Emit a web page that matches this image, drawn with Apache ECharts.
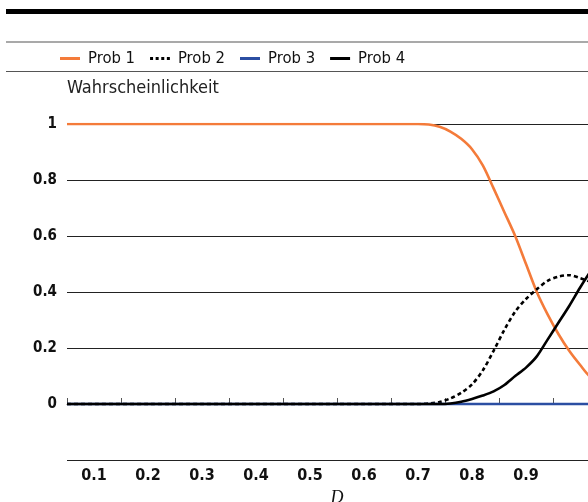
<!DOCTYPE html>
<html>
<head>
<meta charset="utf-8">
<script src="https://cdn.jsdelivr.net/npm/echarts@6/dist/echarts.min.js"></script>
<style>
  html, body { margin: 0; padding: 0; background: #fff; }
  #chart { width: 588px; height: 502px; }
</style>
</head>
<body>
<div id="chart"></div>
<script>
// ---- data ----
const xTickLabels = ['0.1', '0.2', '0.3', '0.4', '0.5', '0.6', '0.7', '0.8', '0.9', ''];
const yTickValues = [0, 0.2, 0.4, 0.6, 0.8, 1];
const dValues = [0.05, 0.10, 0.20, 0.30, 0.40, 0.50, 0.60, 0.70, 0.72, 0.74, 0.76, 0.78, 0.80, 0.82, 0.84, 0.86, 0.88, 0.90, 0.92, 0.94, 0.96, 0.98, 1.00, 1.02, 1.05];
const prob1 = [1, 1, 1, 1, 1, 1, 1, 1, 0.998, 0.99, 0.973, 0.947, 0.91, 0.852, 0.77, 0.685, 0.60, 0.50, 0.40, 0.32, 0.25, 0.19, 0.14, 0.095, 0.06];
const prob2 = [0, 0, 0, 0, 0, 0, 0, 0, 0.002, 0.007, 0.02, 0.04, 0.07, 0.12, 0.19, 0.265, 0.33, 0.375, 0.41, 0.44, 0.455, 0.46, 0.45, 0.435, 0.40];
const prob3 = [0, 0, 0, 0, 0, 0, 0, 0, 0, 0, 0, 0, 0, 0, 0, 0, 0, 0, 0, 0, 0, 0, 0, 0, 0];
const prob4 = [0, 0, 0, 0, 0, 0, 0, 0, 0, 0, 0.002, 0.008, 0.018, 0.03, 0.045, 0.068, 0.10, 0.13, 0.17, 0.23, 0.29, 0.35, 0.415, 0.475, 0.56];
const seriesNames = ['Prob 1', 'Prob 2', 'Prob 3', 'Prob 4'];
const yAxisTitle = 'Wahrscheinlichkeit';
const xAxisTitle = 'D';

const FONT = '"DejaVu Sans Condensed", "DejaVu Sans", sans-serif';
const pairs = arr => dValues.map((d, i) => [d, arr[i]]);

const chart = echarts.init(document.getElementById('chart'), null, { renderer: 'canvas' });

function lineSeries(name, arr, color, width, type) {
  return {
    name: name,
    type: 'line',
    xAxisIndex: 1,
    yAxisIndex: 0,
    data: pairs(arr),
    showSymbol: false,
    symbol: 'none',
    smooth: 0.3,
    lineStyle: { color: color, width: width, type: type || 'solid', cap: 'butt' },
    itemStyle: { color: color },
    animation: false
  };
}

const solidIcon = 'path://M0,0H20V3H0Z';
const dottedIcon = 'path://M0,0H3V3H0Z M5.6,0H8.6V3H5.6Z M11.2,0H14.2V3H11.2Z M16.8,0H19.8V3H16.8Z';

const option = {
  animation: false,
  backgroundColor: '#ffffff',
  textStyle: { fontFamily: FONT },
  graphic: [
    { type: 'rect', shape: { x: 6, y: 9, width: 582, height: 5 }, style: { fill: '#000' } },
    { type: 'line', shape: { x1: 6, y1: 42, x2: 588, y2: 42 }, style: { stroke: '#555', lineWidth: 1.2 } },
    { type: 'line', shape: { x1: 6, y1: 71.5, x2: 588, y2: 71.5 }, style: { stroke: '#555', lineWidth: 1.2 } },
    { type: 'text', left: 67, top: 79, style: { text: yAxisTitle, font: '18px ' + FONT, fill: '#222' } }
  ],
  legend: {
    left: 55,
    top: 45,
    itemWidth: 20,
    itemHeight: 3,
    itemGap: 15,
    textStyle: { fontFamily: FONT, fontSize: 16.5, color: '#111', padding: [0, 0, 0, 3] },
    data: [
      { name: seriesNames[0], icon: solidIcon },
      { name: seriesNames[1], icon: dottedIcon },
      { name: seriesNames[2], icon: solidIcon },
      { name: seriesNames[3], icon: solidIcon }
    ]
  },
  grid: { left: 67, top: 124, width: 540, height: 336, containLabel: false, outerBoundsMode: 'none' },
  xAxis: [
    {
      type: 'category',
      data: xTickLabels,
      boundaryGap: true,
      position: 'bottom',
      axisLine: { show: true, lineStyle: { color: '#777', width: 1.2 } },
      axisTick: { show: true, inside: true, length: 6, lineStyle: { color: '#555' } },
      axisLabel: { interval: 0, margin: 8, fontFamily: FONT, fontSize: 16, fontWeight: 'bold', color: '#111' },
      splitLine: { show: false },
      name: xAxisTitle,
      nameLocation: 'middle',
      nameGap: 26,
      nameTextStyle: { fontFamily: '"Liberation Serif", "DejaVu Serif", serif', fontStyle: 'italic', fontSize: 18, color: '#111' }
    },
    {
      type: 'value',
      min: 0.05,
      max: 1.05,
      show: false,
      splitLine: { show: false }
    }
  ],
  yAxis: [
    {
      type: 'value',
      min: -0.2,
      max: 1,
      interval: 0.2,
      axisLine: { show: false },
      axisTick: { show: false },
      axisLabel: {
        margin: 10,
        fontFamily: FONT,
        fontSize: 15,
        fontWeight: 'bold',
        color: '#111',
        formatter: v => {
          const r = Math.round(v * 10) / 10;
          return yTickValues.some(t => Math.abs(t - r) < 1e-9) ? String(r) : '';
        }
      },
      splitLine: { show: true, lineStyle: { color: '#222', width: 1 } }
    }
  ],
  series: [
    lineSeries(seriesNames[0], prob1, '#F47B3A', 2.6),
    lineSeries(seriesNames[1], prob2, '#000000', 2.6, [4, 3]),
    lineSeries(seriesNames[2], prob3, '#2B4EA2', 2.4),
    lineSeries(seriesNames[3], prob4, '#000000', 2.6)
  ]
};

chart.setOption(option);
</script>
</body>
</html>
